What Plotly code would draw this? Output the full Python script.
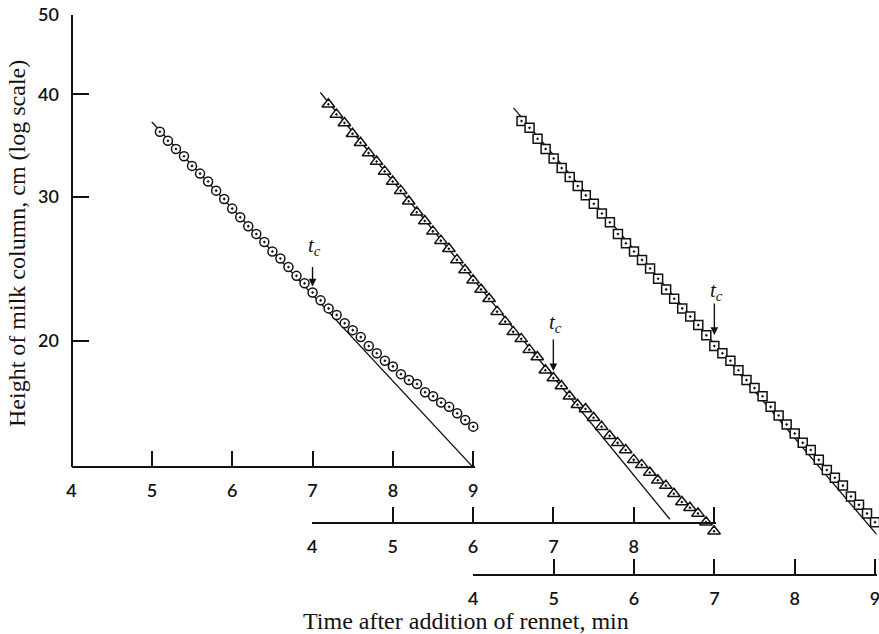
import numpy as np
import plotly.graph_objects as go

# Height of milk column (cm) against time after rennet addition (min),
# three runs, each read on its own time scale.
t_circles = [5.1, 5.2, 5.3, 5.4, 5.5, 5.6, 5.7, 5.8, 5.9, 6.0,
             6.1, 6.2, 6.3, 6.4, 6.5, 6.6, 6.7, 6.8, 6.9, 7.0,
             7.1, 7.2, 7.3, 7.4, 7.5, 7.6, 7.7, 7.8, 7.9, 8.0,
             8.1, 8.2, 8.3, 8.4, 8.5, 8.6, 8.7, 8.8, 8.9, 9.0]
h_circles = [36.0, 35.1, 34.3, 33.6, 32.7, 32.0, 31.3, 30.5, 29.8, 29.0,
             28.3, 27.6, 27.0, 26.4, 25.7, 25.2, 24.6, 24.0, 23.5, 22.9,
             22.4, 21.9, 21.5, 21.0, 20.6, 20.2, 19.7, 19.3, 18.9, 18.6,
             18.2, 17.9, 17.7, 17.3, 17.1, 16.8, 16.6, 16.3, 16.0, 15.7]

t_triangles = [4.2, 4.3, 4.4, 4.5, 4.6, 4.7, 4.8, 4.9, 5.0, 5.1,
               5.2, 5.3, 5.4, 5.5, 5.6, 5.7, 5.8, 5.9, 6.0, 6.1,
               6.2, 6.3, 6.4, 6.5, 6.6, 6.7, 6.8, 6.9, 7.0, 7.1,
               7.2, 7.3, 7.4, 7.5, 7.6, 7.7, 7.8, 7.9, 8.0, 8.1,
               8.2, 8.3, 8.4, 8.5, 8.6, 8.7, 8.8, 8.9, 9.0]
h_triangles = [38.9, 37.8, 36.9, 35.8, 34.9, 33.9, 33.1, 32.2, 31.3, 30.5,
               29.6, 28.7, 28.0, 27.2, 26.5, 25.9, 25.1, 24.4, 23.7, 23.1,
               22.5, 21.7, 21.1, 20.5, 20.1, 19.5, 19.1, 18.4, 18.0, 17.6,
               17.1, 16.7, 16.5, 16.1, 15.7, 15.3, 15.0, 14.7, 14.3, 14.1,
               13.8, 13.5, 13.3, 13.0, 12.7, 12.5, 12.3, 12.0, 11.7]

t_squares = [4.6, 4.7, 4.8, 4.9, 5.0, 5.1, 5.2, 5.3, 5.4, 5.5,
             5.6, 5.7, 5.8, 5.9, 6.0, 6.1, 6.2, 6.3, 6.4, 6.5,
             6.6, 6.7, 6.8, 6.9, 7.0, 7.1, 7.2, 7.3, 7.4, 7.5,
             7.6, 7.7, 7.8, 7.9, 8.0, 8.1, 8.2, 8.3, 8.4, 8.5,
             8.6, 8.7, 8.8, 8.9, 9.0]
h_squares = [37.1, 36.4, 35.3, 34.3, 33.4, 32.5, 31.7, 30.9, 30.1, 29.4,
             28.6, 27.9, 27.0, 26.3, 25.7, 25.1, 24.5, 23.8, 23.1, 22.5,
             21.9, 21.4, 20.9, 20.3, 19.7, 19.3, 18.9, 18.4, 17.9, 17.5,
             17.1, 16.6, 16.2, 15.8, 15.4, 15.0, 14.7, 14.3, 13.9, 13.6,
             13.3, 12.9, 12.6, 12.3, 12.0]

# Straight-line (first-order) fits drawn through the early points
fit1_t, fit1_h = [5.0, 9.0], [37.0, 14.0]
fit2_t, fit2_h = [4.1, 8.45], [40.2, 12.1]
fit3_t, fit3_h = [4.5, 9.05], [38.5, 11.5]

# Clotting time t_c and height at that time for each run
tc_times = [7.0, 7.0, 7.0]
tc_heights = [22.9, 18.0, 19.7]

x_ticks = [4, 5, 6, 7, 8, 9]
x_labels = ["4", "5", "6", "7", "8", "9"]
x2_labels = ["4", "5", "6", "7", "8", ""]
y_ticks = [20, 30, 40, 50]

# ---- page geometry (pixels) ----
W, H = 879, 634
PX_PER_DECADE = 818.3
PX_PER_MIN = 80.35
Y_TOP_PX = 15          # where 50 cm sits
Y_AXIS_BOTTOM_PX = 467
Y_DATA_BOTTOM_PX = 600
X_LEFT = [71.5, 312.3, 473.3]   # pixel of t = 4 on each time scale
X_AXIS_PX = [467, 523, 575]
X_END_PAD = 1.5                 # axis line runs a hair past the last tick

def fx(px):
    return px / W

def fy(py):
    return 1 - py / H

top_log = np.log10(50)
y_vis_bottom = top_log - (Y_AXIS_BOTTOM_PX - Y_TOP_PX) / PX_PER_DECADE
y_data_bottom = top_log - (Y_DATA_BOTTOM_PX - Y_TOP_PX) / PX_PER_DECADE
x_end = 9 + X_END_PAD / PX_PER_MIN

INK = "#111111"
fig = go.Figure()

line_style = dict(color=INK, width=1.3)
fig.add_trace(go.Scatter(x=fit1_t, y=fit1_h, mode="lines", line=line_style,
                         xaxis="x", yaxis="y", hoverinfo="skip"))
fig.add_trace(go.Scatter(x=fit2_t, y=fit2_h, mode="lines", line=line_style,
                         xaxis="x2", yaxis="y2", hoverinfo="skip"))
fig.add_trace(go.Scatter(x=fit3_t, y=fit3_h, mode="lines", line=line_style,
                         xaxis="x3", yaxis="y2", hoverinfo="skip"))

def marker(symbol, size):
    return dict(symbol=symbol, size=size, color="white",
                line=dict(color=INK, width=1.5))

fig.add_trace(go.Scatter(x=t_circles, y=h_circles, mode="markers",
                         marker=marker("circle-dot", 9), cliponaxis=False,
                         xaxis="x", yaxis="y"))
fig.add_trace(go.Scatter(x=t_triangles, y=h_triangles, mode="markers",
                         marker=marker("triangle-up-dot", 11), cliponaxis=False,
                         xaxis="x2", yaxis="y2"))
fig.add_trace(go.Scatter(x=t_squares, y=h_squares, mode="markers",
                         marker=marker("square-dot", 9), cliponaxis=False,
                         xaxis="x3", yaxis="y2"))

tick_font = dict(family="Lato", size=18, color=INK, weight=600)

def x_axis(i, labels):
    left = X_LEFT[i]
    right = left + (x_end - 4) * PX_PER_MIN
    return dict(domain=[fx(left), fx(right)], range=[4, x_end],
                anchor="free", position=fy(X_AXIS_PX[i]),
                showline=True, linecolor=INK, linewidth=2,
                ticks="inside", ticklen=15, tickwidth=2, tickcolor=INK,
                tickvals=x_ticks, ticktext=labels, tickfont=tick_font,
                ticklabelstandoff=7, ticklabeloverflow="allow",
                automargin=False,
                showgrid=False, zeroline=False, fixedrange=True)

fig.update_layout(
    width=W, height=H,
    margin=dict(l=0, r=0, t=0, b=0, pad=0, autoexpand=False),
    paper_bgcolor="white", plot_bgcolor="rgba(0,0,0,0)",
    showlegend=False,
    xaxis=x_axis(0, x_labels),
    xaxis2=x_axis(1, x2_labels),
    xaxis3=x_axis(2, x_labels),
    yaxis=dict(type="log", domain=[fy(Y_AXIS_BOTTOM_PX), fy(Y_TOP_PX)],
               range=[y_vis_bottom, top_log], anchor="free",
               position=fx(X_LEFT[0]),
               showline=True, linecolor=INK, linewidth=2,
               ticks="inside", ticklen=16, tickwidth=2, tickcolor=INK,
               tickvals=y_ticks, ticktext=[str(v) for v in y_ticks],
               tickfont=tick_font, ticklabelstandoff=8,
               ticklabeloverflow="allow", automargin=False,
               showgrid=False, zeroline=False, fixedrange=True),
    yaxis2=dict(type="log", domain=[fy(Y_DATA_BOTTOM_PX), fy(Y_TOP_PX)],
                range=[y_data_bottom, top_log], anchor="free",
                position=fx(X_LEFT[0]), visible=False, fixedrange=True),
)

# t_c arrows and labels
tc_refs = [("x", "y"), ("x2", "y2"), ("x3", "y2")]
arrow_len = [27, 40, 44]
arrow_gap = [6, 7, 11]
label_shift = [47, 55, 55]
tc_font = dict(family="Liberation Serif", size=21, color=INK)
for (xr, yr), t, h, alen, gap, ls in zip(tc_refs, tc_times, tc_heights,
                                         arrow_len, arrow_gap, label_shift):
    fig.add_annotation(x=t, y=np.log10(h), xref=xr, yref=yr, text="",
                       showarrow=True, ax=0, ay=-alen, standoff=gap,
                       arrowhead=2, arrowsize=1.1, arrowwidth=1.4,
                       arrowcolor=INK)
    fig.add_annotation(x=t, y=np.log10(h), xref=xr, yref=yr,
                       text="<i>t<sub>c</sub></i>", showarrow=False,
                       yshift=ls, xshift=2, font=tc_font)

title_font = dict(family="Liberation Serif", size=24, color=INK)
fig.add_annotation(x=fx(466), y=fy(621), xref="paper", yref="paper",
                   text="Time after addition of rennet, min", showarrow=False,
                   font=title_font, xanchor="center", yanchor="middle")
fig.add_annotation(x=fx(17), y=fy(244), xref="paper", yref="paper",
                   text="Height of milk column, cm (log scale)",
                   showarrow=False, textangle=-90, font=title_font,
                   xanchor="center", yanchor="middle")

fig.write_html("out.html")
